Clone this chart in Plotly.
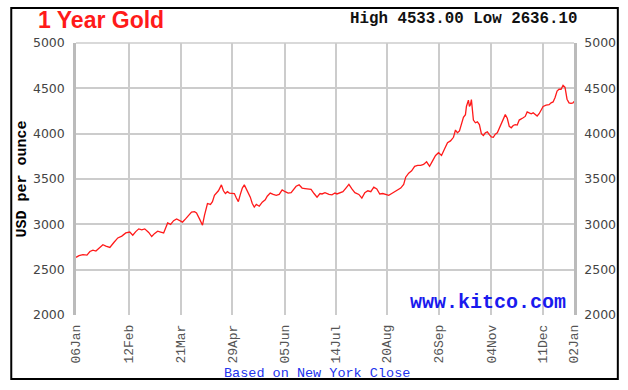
import plotly.graph_objects as go

# trading-day index (0 = 06 Jan) and NY close price, USD/oz
day = [0, 1.5, 3.5, 5.5, 7, 8.5, 10, 12, 13.5, 15, 17, 19, 21, 23, 25, 27, 28.5, 30, 31.5, 33, 34.5,
       36.5, 38, 39.5, 41, 42.5, 44, 45, 46, 47.5, 49, 50.5, 52, 53.5, 55, 56.5, 58, 59.5, 60.5, 62,
       63.5, 64.5, 66, 67.5, 68.5, 69.5, 70.5, 71.5, 73, 74, 75, 76, 77, 79.5, 80.5, 81.5, 82.5, 83.5,
       84.5, 85.5, 86.5, 87.5, 88.5, 89.5, 90.5, 92, 93.5, 95, 96, 97.5, 99, 100.5, 102, 103.5, 105,
       106.5, 108, 109.5, 110.5, 112, 113.5, 115, 116.5, 118, 119.5, 121, 122.5, 123.5, 125, 127,
       128.5, 130, 131, 132.5, 134, 135.5, 137, 138.5, 140, 142, 143.5, 145, 146.5, 148, 149.5, 151,
       152.5, 154, 155.5, 157, 158.5, 160, 161.5, 163, 164.5, 165.5, 167, 168.5, 170, 171.5, 173,
       174.5, 176, 177.5, 179, 180.5, 182, 183.5, 185, 186.5, 188, 189.5, 190.5, 191.5, 192.5, 193.5,
       194.5, 195.5, 196, 197, 197.5, 198, 198.5, 199.5, 200.5, 201.5, 202.5, 203.5, 204.5, 205.5,
       206.5, 207.5, 208.5, 209.5, 210.5, 211.5, 212.5, 213.5, 214.5, 215.5, 216.5, 217.5, 218.5,
       219.5, 220.5, 221.5, 222.5, 223.5, 224.5, 225.5, 226.5, 227.5, 228.5, 229.5, 230.5, 231.5,
       232.5, 233.5, 234.5, 236, 237.5, 238.5, 239.5, 240.5, 241.5, 242.5, 243.5, 244.5, 245.5, 246.5,
       247.5, 248.5, 249.5, 250]
price = [2636.1, 2655, 2665, 2660, 2700, 2715, 2705, 2750, 2775, 2760, 2745, 2800, 2850, 2870, 2905,
         2915, 2880, 2920, 2950, 2940, 2950, 2910, 2865, 2900, 2925, 2915, 2905, 2960, 3015, 3000,
         3040, 3060, 3040, 3025, 3060, 3100, 3135, 3140, 3125, 3060, 2990, 3100, 3230, 3220, 3250,
         3320, 3340, 3370, 3435, 3370, 3340, 3360, 3345, 3340, 3290, 3250, 3330, 3400, 3435, 3390,
         3330, 3300, 3230, 3190, 3220, 3200, 3245, 3270, 3310, 3345, 3330, 3320, 3330, 3380, 3360,
         3345, 3350, 3395, 3420, 3435, 3400, 3395, 3390, 3385, 3340, 3300, 3340, 3335, 3350, 3330,
         3325, 3345, 3335, 3345, 3360, 3400, 3440, 3390, 3350, 3330, 3290, 3350, 3370, 3360, 3410,
         3390, 3335, 3340, 3330, 3320, 3340, 3360, 3380, 3400, 3440, 3520, 3565, 3590, 3640, 3650,
         3650, 3660, 3690, 3640, 3700, 3760, 3790, 3760, 3830, 3900, 3920, 3960, 4040, 4010, 4030,
         4120, 4180, 4210, 4300, 4370, 4300, 4320, 4375, 4150, 4120, 4130, 4100, 4000, 3980, 4010,
         4020, 3990, 3965, 3960, 3995, 4010, 4060, 4100, 4140, 4210, 4170, 4080, 4065, 4090, 4100,
         4095, 4150, 4160, 4175, 4190, 4240, 4230, 4220, 4230, 4210, 4195, 4220, 4260, 4300, 4315,
         4320, 4340, 4350, 4400, 4470, 4490, 4490, 4533, 4510, 4380, 4340, 4335, 4340, 4355, 4350]
price = price[:len(day)]
day = day[:len(price)]

tick_days = [0, 26.5, 52.5, 78.5, 105, 130.5, 156, 182, 208.5, 234.5, 250]
tick_labels = ["06Jan", "12Feb", "21Mar", "29Apr", "05Jun", "14Jul", "20Aug",
               "26Sep", "04Nov", "11Dec", "02Jan"]
y_ticks = [2000, 2500, 3000, 3500, 4000, 4500, 5000]

W, H = 628, 390
L, R, T, B = 76, 52, 43, 75
pw, ph = W - L - R, H - T - B

def px(x):
    return (x - L) / pw

def py(y):
    return (H - B - y) / ph

mono = "Liberation Mono, DejaVu Sans Mono, monospace"
sans = "DejaVu Sans, Verdana, sans-serif"

fig = go.Figure()
fig.add_trace(go.Scatter(x=day, y=price, mode="lines",
                         line=dict(color="#ff1a1a", width=1.3), hoverinfo="skip",
                         showlegend=False))
fig.add_trace(go.Scatter(x=[day[0]], y=[price[0]], yaxis="y2", mode="markers",
                         marker=dict(opacity=0), showlegend=False, hoverinfo="skip"))

fig.update_layout(
    width=W, height=H,
    margin=dict(l=L, r=R, t=T, b=B, pad=0),
    paper_bgcolor="white", plot_bgcolor="white",
    xaxis=dict(range=[0, 250], tickvals=tick_days, ticktext=tick_labels,
               tickangle=-90, tickfont=dict(family=mono, size=13, color="#555"),
               showgrid=True, gridcolor="#cccccc", gridwidth=1.5,
               zeroline=False, showline=False, ticks="", ticklabelstandoff=6),
    yaxis=dict(range=[2000, 5000], tickvals=y_ticks,
               tickfont=dict(family=sans, size=12.5, color="#444"),
               showgrid=True, gridcolor="#cccccc", gridwidth=1.5,
               zeroline=False, showline=True, linecolor="#bbbbbb", linewidth=2.5,
               ticks="", ticklabelstandoff=6,
               title=dict(text="USD per ounce", font=dict(family=mono, size=15, color="black",
                                                          weight="bold"), standoff=3)),
    yaxis2=dict(range=[2000, 5000], tickvals=y_ticks, overlaying="y", side="right",
                tickfont=dict(family=sans, size=12.5, color="#444"),
                showgrid=False, zeroline=False, showline=True, linecolor="#bbbbbb",
                linewidth=2.5, ticks="", ticklabelstandoff=5),
)

fig.add_shape(type="rect", xref="paper", yref="paper",
              x0=px(11), x1=px(620), y0=py(379), y1=py(8),
              line=dict(color="black", width=2), layer="below")
fig.add_shape(type="line", xref="paper", yref="paper",
              x0=0, x1=1, y0=1, y1=1, line=dict(color="#cccccc", width=1.5))

fig.add_annotation(text="1 Year Gold", xref="paper", yref="paper",
                   x=px(36), y=py(35), xanchor="left", yanchor="bottom", showarrow=False,
                   font=dict(family="Liberation Sans, Arial, sans-serif", size=23,
                             color="#ff1a1a", weight="bold"))
fig.add_annotation(text="High 4533.00 Low 2636.10", xref="paper", yref="paper",
                   x=px(582), y=py(30), xanchor="right", yanchor="bottom", showarrow=False,
                   font=dict(family=mono, size=15.8, color="#111", weight="bold"))
fig.add_annotation(text="www.kitco.com", xref="paper", yref="paper",
                   x=px(570), y=py(316), xanchor="right", yanchor="bottom", showarrow=False,
                   font=dict(family=mono, size=20, color="#1a1aee", weight="bold"))
fig.add_annotation(text="Based on New York Close", xref="paper", yref="paper",
                   x=px(318), y=py(373), xanchor="center", yanchor="middle", showarrow=False,
                   font=dict(family=mono, size=13.5, color="#2233ee"))

fig.write_html("out.html", config={"displayModeBar": False},
               post_script="document.body.style.margin='0';")
